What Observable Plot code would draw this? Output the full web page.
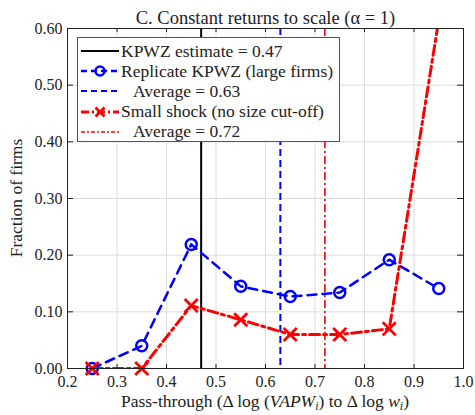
<!DOCTYPE html>
<html>
<head>
<meta charset="utf-8">
<script src="https://cdn.jsdelivr.net/npm/d3@7"></script>
<script src="https://cdn.jsdelivr.net/npm/@observablehq/plot@0.6"></script>
</head>
<body style="margin:0;padding:0;background:#fff;font-family:'Times New Roman',serif">
<div id="chart" style="position:relative;width:475px;height:415px;font-family:'Times New Roman',serif"></div>
<script>
// ---- data ----
const passThrough = [0.25, 0.35, 0.45, 0.55, 0.65, 0.75, 0.85, 0.95];
const replicateKPWZ = [0.0, 0.040, 0.219, 0.145, 0.127, 0.134, 0.192, 0.141];
const smallShock = [0.0, 0.0, 0.111, 0.086, 0.060, 0.060, 0.070, 0.615];
const kpwzEstimate = 0.47;
const replicateAverage = 0.63;
const smallAverage = 0.72;
const xTicks = [0.2, 0.3, 0.4, 0.5, 0.6, 0.7, 0.8, 0.9, 1.0];
const yTicks = [0, 0.1, 0.2, 0.3, 0.4, 0.5, 0.6];
const titleText = "C. Constant returns to scale (α = 1)";
const legendLabels = ["KPWZ estimate = 0.47", "Replicate KPWZ (large firms)", "Average = 0.63", "Small shock (no size cut-off)", "Average = 0.72"];

const rep = passThrough.map((x, i) => ({x, y: replicateKPWZ[i]}));
const sml = passThrough.map((x, i) => ({x, y: smallShock[i]}));
const BLUE = "#0000ff", RED = "#ff0000";
const FONT = "'Times New Roman', serif";

const plot = Plot.plot({
  width: 475,
  height: 415,
  marginLeft: 67,
  marginRight: 12,
  marginTop: 28,
  marginBottom: 47,
  style: {fontFamily: FONT, fontSize: "16px", color: "#222", background: "#fff"},
  x: {domain: [0.2, 1.0], ticks: xTicks, tickFormat: d3.format(".1f"), label: null},
  y: {domain: [0, 0.6], ticks: yTicks, tickFormat: d3.format(".2f"), label: null},
  marks: [
    Plot.gridX(xTicks, {stroke: "#dcdcdc", strokeOpacity: 1}),
    Plot.gridY(yTicks, {stroke: "#dcdcdc", strokeOpacity: 1}),
    Plot.axisX({ticks: xTicks, tickSize: 0, tickPadding: 7, tickFormat: d3.format(".1f"), label: null, fontSize: 16}),
    Plot.axisY({ticks: yTicks, tickSize: 0, tickPadding: 5, tickFormat: d3.format(".2f"), label: null, fontSize: 16}),
    Plot.ruleX([kpwzEstimate], {stroke: "#000", strokeWidth: 2}),
    Plot.ruleX([replicateAverage], {stroke: BLUE, strokeWidth: 2, strokeDasharray: "7,4"}),
    Plot.ruleX([smallAverage], {stroke: RED, strokeWidth: 1.6, strokeDasharray: "8,3,2,3"}),
    Plot.line(rep, {x: "x", y: "y", stroke: BLUE, strokeWidth: 2.5, strokeDasharray: "9,6"}),
    Plot.dot(rep, {x: "x", y: "y", r: 5.5, stroke: BLUE, strokeWidth: 2.5, fill: "none"}),
    Plot.line(sml, {x: "x", y: "y", stroke: RED, strokeWidth: 3, strokeDasharray: "10,4,3,4", clip: true}),
    Plot.dot(sml.filter(d => d.y <= 0.6), {x: "x", y: "y", symbol: "times", r: 6, stroke: RED, strokeWidth: 2.8}),
    Plot.tickX(xTicks, {x: d => d, stroke: "#222", strokeWidth: 1, insetBottom: 336}),
    Plot.tickX(xTicks, {x: d => d, stroke: "#222", strokeWidth: 1, insetTop: 336}),
    Plot.tickY(yTicks, {y: d => d, stroke: "#222", strokeWidth: 1, insetRight: 390}),
    Plot.tickY(yTicks, {y: d => d, stroke: "#222", strokeWidth: 1, insetLeft: 390}),
    Plot.frame({stroke: "#222", strokeWidth: 1}),
    Plot.text([titleText], {frameAnchor: "top", dy: -5, lineAnchor: "bottom", fontSize: 18.5, fill: "#222"})
  ]
});
document.getElementById("chart").appendChild(plot);
d3.select(plot).selectAll("text").style("font-family", FONT);

// axis labels with math formatting
const svg = d3.select(plot);
const xl = svg.append("text")
  .attr("x", 67 + (475 - 67 - 12) / 2).attr("y", 407)
  .attr("text-anchor", "middle").attr("font-size", 17.5).attr("fill", "#222")
  .style("font-family", FONT);
xl.append("tspan").text("Pass-through (Δ log (");
xl.append("tspan").attr("font-style", "italic").text("VAPW");
xl.append("tspan").attr("font-style", "italic").attr("font-size", 12).attr("dy", 3).text("i");
xl.append("tspan").attr("dy", -3).text(") to Δ log ");
xl.append("tspan").attr("font-style", "italic").text("w");
xl.append("tspan").attr("font-style", "italic").attr("font-size", 12).attr("dy", 3).text("i");
xl.append("tspan").attr("dy", -3).text(")");

svg.append("text")
  .attr("transform", "translate(22," + (28 + 340 / 2) + ") rotate(-90)")
  .attr("text-anchor", "middle").attr("font-size", 17.5).attr("fill", "#222")
  .style("font-family", FONT)
  .text("Fraction of firms");

// legend
const legend = document.createElement("div");
legend.style.cssText = "position:absolute;left:77px;top:37px;width:263px;height:105px;border:1px solid #555;background:#fff;box-sizing:border-box;font-family:'Times New Roman',serif";
const rows = [
  {stroke: "#000", dash: null, w: 2, marker: null, indent: 0},
  {stroke: BLUE, dash: "6,4", w: 2.5, marker: "circle", indent: 0},
  {stroke: BLUE, dash: "6,4", w: 2, marker: null, indent: 12},
  {stroke: RED, dash: "8,3,2,3", w: 3, marker: "times", indent: 0},
  {stroke: RED, dash: "4,2,2,2", w: 1.5, marker: null, indent: 12}
];
rows.forEach((r, i) => {
  const row = document.createElement("div");
  row.style.cssText = `position:absolute;left:0;top:${3 + i * 20.2}px;height:20px;display:flex;align-items:center;font-size:17.5px;color:#222;white-space:nowrap`;
  let m = "";
  if (r.marker === "circle") m = `<circle cx="22" cy="10" r="4.5" fill="none" stroke="${r.stroke}" stroke-width="2.5"/>`;
  if (r.marker === "times") m = `<path d="M17.5,5.5L26.5,14.5M26.5,5.5L17.5,14.5" stroke="${r.stroke}" stroke-width="2.8"/>`;
  row.innerHTML = `<svg width="43" height="20" style="flex:none"><line x1="3" x2="41" y1="10" y2="10" stroke="${r.stroke}" stroke-width="${r.w}" ${r.dash ? `stroke-dasharray="${r.dash}"` : ""}/>${m}</svg><span style="margin-left:${r.indent}px">${legendLabels[i]}</span>`;
  legend.appendChild(row);
});
document.getElementById("chart").appendChild(legend);
</script>
</body>
</html>
